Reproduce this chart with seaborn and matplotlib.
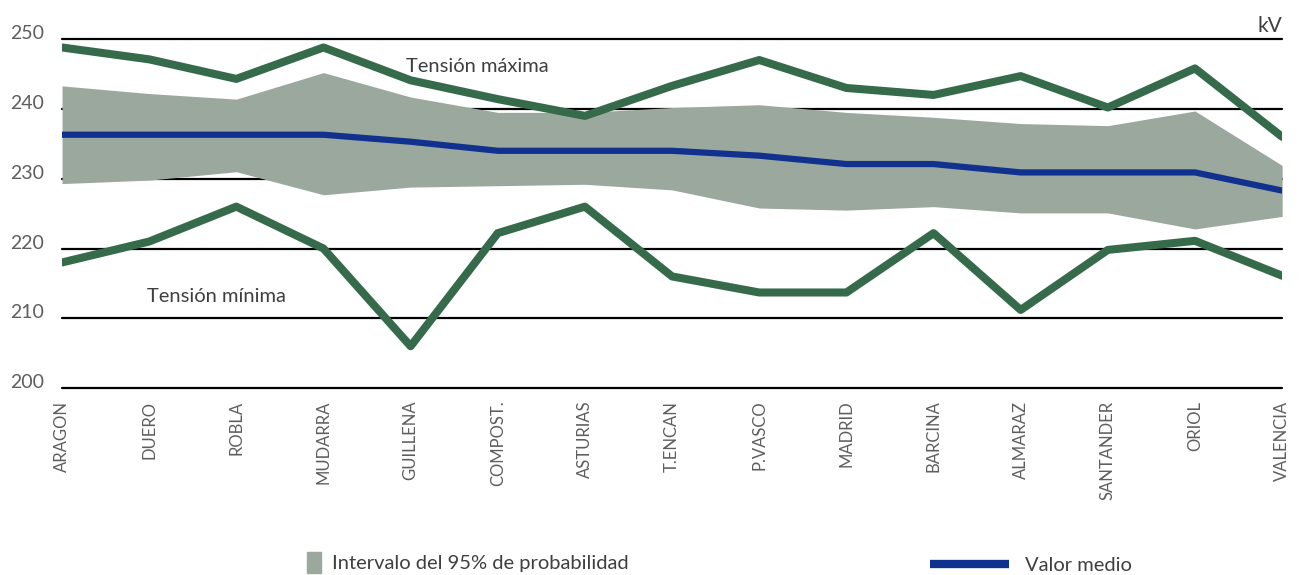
import matplotlib
matplotlib.use("Agg")
import matplotlib.pyplot as plt
import matplotlib.transforms as mtransforms
from matplotlib.patches import Patch
from matplotlib.lines import Line2D
import numpy as np
import pandas as pd
import seaborn as sns

# Data (kV)
subestaciones = ["ARAGON", "DUERO", "ROBLA", "MUDARRA", "GUILLENA", "COMPOST.",
                 "ASTURIAS", "T.ENCAN", "P.VASCO", "MADRID", "BARCINA", "ALMARAZ",
                 "SANTANDER", "ORIOL", "VALENCIA"]
tension_max = [248.8, 247.1, 244.3, 248.8, 244.1, 241.4, 239.0, 243.3, 247.0,
               243.0, 242.0, 244.7, 240.2, 245.8, 236.0]
tension_min = [218.0, 221.0, 226.0, 220.0, 206.0, 222.2, 226.0, 216.0, 213.7,
               213.7, 222.2, 211.2, 219.8, 221.1, 216.1]
valor_medio = [236.3, 236.3, 236.3, 236.3, 235.3, 234.0, 234.0, 234.0, 233.3,
               232.1, 232.1, 230.9, 230.9, 230.9, 228.3]
intervalo_sup = [243.3, 242.2, 241.4, 245.2, 241.7, 239.5, 239.5, 240.2, 240.6,
                 239.5, 238.8, 237.9, 237.6, 239.7, 231.9]
intervalo_inf = [229.3, 229.8, 231.0, 227.7, 228.8, 229.0, 229.2, 228.4, 225.8,
                 225.5, 226.0, 225.1, 225.1, 222.8, 224.6]
y_ticks = [200, 210, 220, 230, 240, 250]

GREEN = "#356b4a"
BLUE = "#11318f"
BAND = "#9ba89e"
TICK = "#5e5e5e"
TEXT = "#3f3f3f"

sns.set_theme(style="white")
plt.rcParams["font.family"] = ["Lato", "DejaVu Sans"]

df = pd.DataFrame({
    "sub": subestaciones,
    "max": tension_max,
    "min": tension_min,
    "medio": valor_medio,
})
pos = np.arange(len(subestaciones))

fig = plt.figure(figsize=(13.03, 5.75), dpi=100)
ax = fig.add_axes([0.0476, 0.325, 0.9364, 0.607])

# grid lines
for v in y_ticks:
    ax.axhline(v, color="black", lw=1.6, zorder=1, clip_on=False)

ax.fill_between(pos, intervalo_inf, intervalo_sup, color=BAND, lw=0, zorder=2)
sns.lineplot(data=df, x="sub", y="medio", ax=ax, color=BLUE, lw=4.5, zorder=3,
             sort=False)
sns.lineplot(data=df, x="sub", y="max", ax=ax, color=GREEN, lw=5.8, zorder=4,
             sort=False)
sns.lineplot(data=df, x="sub", y="min", ax=ax, color=GREEN, lw=5.8, zorder=4,
             sort=False)

ax.set_xlim(0, len(subestaciones) - 1)
ax.set_ylim(200, 250)
ax.set_xlabel("")
ax.set_ylabel("")
ax.set_yticks(y_ticks)
ax.set_yticklabels([str(v) for v in y_ticks], fontsize=14, color=TICK)
ax.set_xticks(pos)
ax.set_xticklabels(subestaciones, rotation=90, fontsize=12, color=TICK,
                   va="top")
ax.tick_params(axis="y", length=0, pad=13)
ax.tick_params(axis="x", length=0, pad=9)
# y labels sit slightly above their grid line
offset = mtransforms.ScaledTranslation(0, 5 / 72, fig.dpi_scale_trans)
for lab in ax.get_yticklabels():
    lab.set_transform(lab.get_transform() + offset)
sns.despine(ax=ax, left=True, bottom=True)

ax.text(3.95, 246.1, "Tensión máxima", fontsize=14.5, color=TEXT, va="center")
ax.text(0.98, 213.1, "Tensión mínima", fontsize=14.5, color=TEXT, va="center")
ax.text(1.0, 1.01, "kV", transform=ax.transAxes, ha="right", va="bottom",
        fontsize=15, color=TEXT)

leg1 = fig.legend(handles=[Patch(color=BAND)],
                  labels=["Intervalo del 95% de probabilidad"],
                  loc="center left", bbox_to_anchor=(0.222, 0.022),
                  frameon=False, fontsize=14.5, handlelength=0.7,
                  handleheight=1.2, handletextpad=0.5)
for t in leg1.get_texts():
    t.set_color(TEXT)
leg2 = fig.legend(handles=[Line2D([], [], color=BLUE, lw=6,
                                  solid_capstyle="butt")],
                  labels=["Valor medio"],
                  loc="center left", bbox_to_anchor=(0.700, 0.016),
                  frameon=False, fontsize=14.5, handlelength=3.9,
                  handletextpad=0.8)
for t in leg2.get_texts():
    t.set_color(TEXT)

fig.savefig("out.png", dpi=100)
